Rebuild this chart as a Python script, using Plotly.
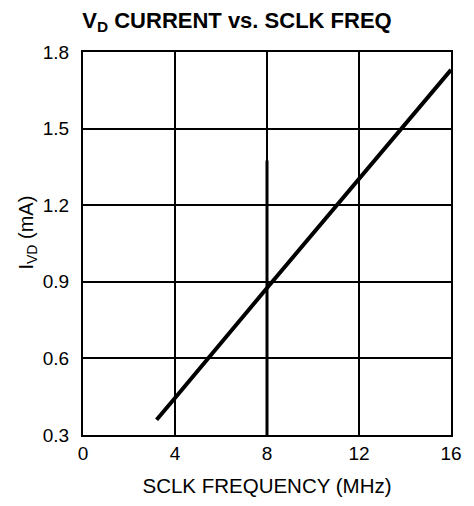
import plotly.graph_objects as go

# Supply current on the VD pin versus serial clock frequency
sclk_mhz = [3.2, 4, 8, 12, 16]
ivd_ma = [0.36, 0.445, 0.876, 1.305, 1.73]

x_ticks = [0, 4, 8, 12, 16]
y_ticks = [0.3, 0.6, 0.9, 1.2, 1.5, 1.8]

# heavier segment of the 8 MHz grid line
heavy_grid_x = 8
heavy_grid_y = [0.3, 1.375]

FONT = "Liberation Sans, Arial, Helvetica, sans-serif"

fig = go.Figure()
fig.add_trace(go.Scatter(
    x=sclk_mhz, y=ivd_ma, mode="lines",
    line=dict(color="black", width=4),
    showlegend=False, hoverinfo="skip",
))

fig.add_shape(
    type="line", xref="x", yref="y",
    x0=heavy_grid_x, x1=heavy_grid_x, y0=heavy_grid_y[0], y1=heavy_grid_y[1],
    line=dict(color="black", width=3), layer="below",
)

# rotated y-axis label
fig.add_annotation(
    text="I<sub>VD</sub> (mA)", textangle=-90, showarrow=False,
    xref="paper", yref="paper", x=-0.150, y=0.528,
    xanchor="center", yanchor="middle",
    font=dict(family=FONT, size=20, color="black"),
)

fig.update_layout(
    width=474, height=506,
    margin=dict(l=83, r=16, t=52, b=71),
    paper_bgcolor="white", plot_bgcolor="white",
    font=dict(family=FONT, color="black"),
    title=dict(
        text="<b>V<sub>D</sub> CURRENT vs. SCLK FREQ</b>",
        font=dict(family=FONT, size=22, color="black"),
        x=0.5, xref="container", xanchor="center",
        y=1 - 20 / 506, yref="container", yanchor="middle",
    ),
)

fig.update_xaxes(
    range=[0, 16], tickvals=x_ticks, ticktext=[str(v) for v in x_ticks],
    showgrid=True, gridcolor="black", gridwidth=1.5,
    showline=True, linecolor="black", linewidth=2, mirror=True,
    ticks="", ticklabelstandoff=0,
    tickfont=dict(size=19, family=FONT),
    zeroline=False,
    title=dict(text="SCLK FREQUENCY (MHz)", font=dict(size=20.5, family=FONT), standoff=16),
)
fig.update_yaxes(
    range=[0.3, 1.8], tickvals=y_ticks, ticktext=[f"{v:.1f}" for v in y_ticks],
    showgrid=True, gridcolor="black", gridwidth=1.5,
    showline=True, linecolor="black", linewidth=2, mirror=True,
    ticks="", ticklabelstandoff=8,
    tickfont=dict(size=19, family=FONT),
    zeroline=False,
)

fig.write_html("out.html")
